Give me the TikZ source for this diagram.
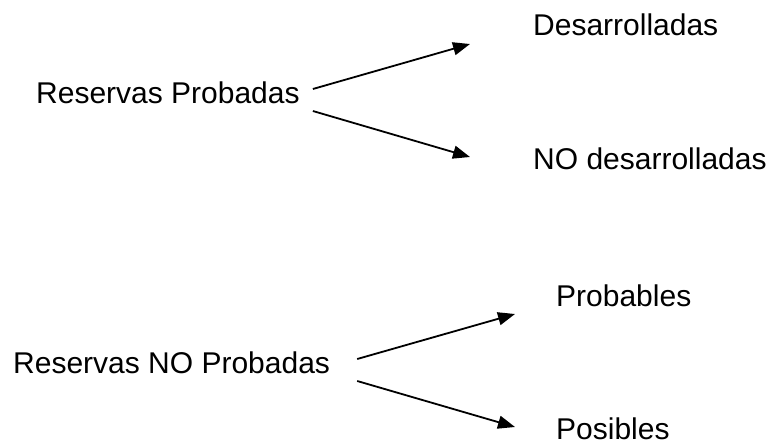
\documentclass[tikz,border=0pt]{standalone}
\usepackage{fontspec}
\setmainfont{Liberation Sans}
\usepackage{tikz}
\usetikzlibrary{arrows.meta, positioning}

\tikzset{
    etiqueta/.style={anchor=base west, inner sep=0pt, font=\fontsize{30}{35}\selectfont},
    flecha/.style={-{Triangle[length=17pt, width=13pt]}, line width=1.8pt}
}

\begin{document}
\begin{tikzpicture}[x=1pt, y=-1pt]

    % Marco del dibujo
    \useasboundingbox (0,0) rectangle (771,445);

    % --- RESERVAS PROBADAS ---
    \node[etiqueta] (rp) at (36,103) {Reservas Probadas};
    \node[etiqueta] (des) at (533,35) {Desarrolladas};
    \node[etiqueta] (nodes) at (533,169) {NO desarrolladas};

    \draw[flecha] ([xshift=13pt, yshift=14pt]rp.base east) -- ([xshift=-63pt, yshift=-9pt]des.base west);
    \draw[flecha] ([xshift=13pt, yshift=-8pt]rp.base east) -- ([xshift=-63pt, yshift=12pt]nodes.base west);

    % --- RESERVAS NO PROBADAS ---
    \node[etiqueta] (rnp) at (13,373) {Reservas NO Probadas};
    \node[etiqueta] (prob) at (556,306) {Probables};
    \node[etiqueta] (pos) at (556,439) {Posibles};

    \draw[flecha] ([xshift=27pt, yshift=14pt]rnp.base east) -- ([xshift=-41pt, yshift=-8pt]prob.base west);
    \draw[flecha] ([xshift=27pt, yshift=-8pt]rnp.base east) -- ([xshift=-41pt, yshift=12pt]pos.base west);

\end{tikzpicture}
\end{document}
